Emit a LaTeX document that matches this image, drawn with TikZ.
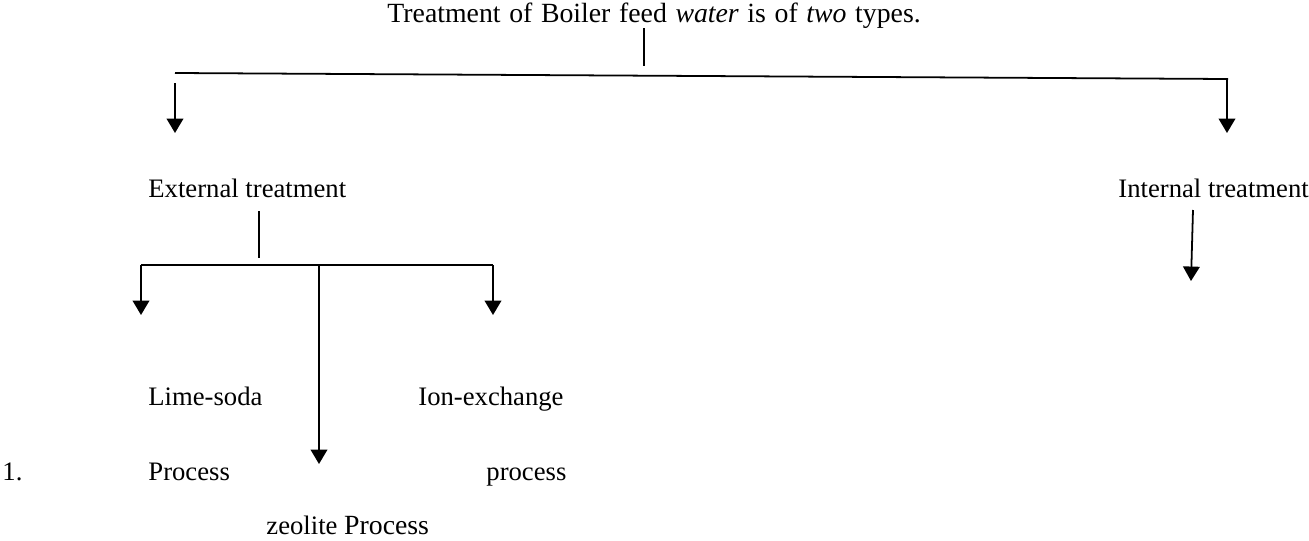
\documentclass[tikz,border=0pt]{standalone}
\usepackage{fontspec}
\setmainfont{Liberation Serif}
\usetikzlibrary{arrows.meta,positioning}

\begin{document}
\begin{tikzpicture}[x=0.45pt,y=-0.45pt]
\tikzset{
  label/.style={anchor=base west,inner sep=0pt,font=\fontsize{12}{14}\selectfont},
  branch/.style={line width=0.8pt},
  downarrow/.style={-{Triangle[length=6.5pt,width=7.5pt]},line width=0.8pt}
}
\useasboundingbox (0,0) rectangle (1309,541);
% texts
\node[label,font=\fontsize{12.5}{14}\selectfont] (n_title) at (387,22) {\makebox[240pt][s]{Treatment of Boiler feed \textit{water} is of \textit{two} types.}};
\node[label] (n_ext) at (148,197) {External treatment};
\node[label] (n_int) at (1118,197) {Internal treatment};
\node[label] (n_lime) at (148,405) {Lime-soda};
\node[label] (n_ion) at (418,405) {Ion-exchange};
\node[label] (n_num) at (2,480) {1.};
\node[label] (n_proc) at (148,480) {Process};
\node[label] (n_iproc) at (486,480) {process};
\node[label] (n_zeo) at (266,534) {zeolite \fontsize{12.5}{14}\selectfont Process};
% loose line ends
\coordinate (c_top1) at (644,28);
\coordinate (c_top2) at (644,66);
\coordinate (c_barL) at (175,73);
\coordinate (c_barR) at (1228,79);
\coordinate (c_extA) at (175,83);
\coordinate (c_extB) at (175,133);
\coordinate (c_intA) at (1227,80);
\coordinate (c_intB) at (1227,133);
\coordinate (c_sub1) at (259,211);
\coordinate (c_sub2) at (259,258);
\coordinate (c_subL) at (141,265);
\coordinate (c_subR) at (493,265);
\coordinate (c_subM) at (319,265);
\coordinate (c_lime) at (141,315);
\coordinate (c_ion) at (493,315);
\coordinate (c_zeo) at (319,464);
\coordinate (c_in1) at (1193,210);
\coordinate (c_in2) at (1191,281);
\draw[branch] (c_top1) -- (c_top2);
\draw[branch] (c_barL) -- (c_barR);
\draw[downarrow] (c_extA) -- (c_extB);
\draw[downarrow] (c_intA) -- (c_intB);
\draw[branch] (c_sub1) -- (c_sub2);
\draw[branch] (c_subL) -- (c_subR);
\draw[downarrow] (c_subL) -- (c_lime);
\draw[downarrow] (c_subR) -- (c_ion);
\draw[downarrow] (c_subM) -- (c_zeo);
\draw[downarrow] (c_in1) -- (c_in2);
\end{tikzpicture}
\end{document}
